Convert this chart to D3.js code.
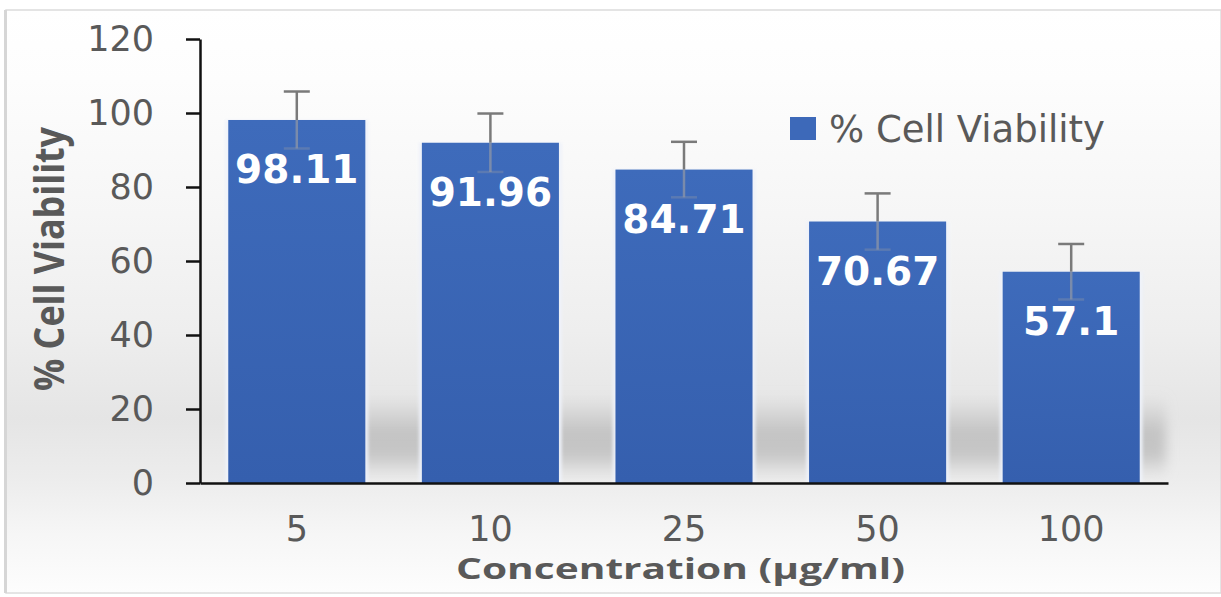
<!DOCTYPE html>
<html>
<head>
<meta charset="utf-8">
<script src="https://cdn.jsdelivr.net/npm/d3@7/dist/d3.min.js"></script>
<style>
  html, body { margin: 0; padding: 0; background: #ffffff; }
  svg { display: block; }
</style>
</head>
<body>
<svg id="chart" width="1221" height="597"></svg>
<script>
// ---- data ----
const categories = ["5", "10", "25", "50", "100"];
const viability = [98.11, 91.96, 84.71, 70.67, 57.1];
const errors = [7.7, 7.9, 7.5, 7.6, 7.5];
const yTicks = [0, 20, 40, 60, 80, 100, 120];
const seriesName = "% Cell Viability";
const xTitle = "Concentration (\u00b5g/ml)";
const yTitle = "% Cell Viability";

const data = categories.map((c, i) => ({ cat: c, v: viability[i], e: errors[i] }));

const svg = d3.select("#chart");
const W = 1221, H = 597;

const defs = svg.append("defs");
const bg = defs.append("linearGradient").attr("id", "bgGrad")
  .attr("x1", 0).attr("y1", 0).attr("x2", 0).attr("y2", 1);
[[0, "#ffffff"], [0.12, "#fdfdfd"], [0.35, "#f6f6f6"], [0.55, "#eeeeee"],
 [0.7, "#e5e5e5"], [0.8, "#ececec"], [0.9, "#f6f6f6"], [1, "#fdfdfd"]]
  .forEach(([o, c]) => bg.append("stop").attr("offset", o).attr("stop-color", c));

const barGrad = defs.append("linearGradient").attr("id", "barGrad")
  .attr("x1", 0).attr("y1", 0).attr("x2", 0).attr("y2", 1);
barGrad.append("stop").attr("offset", 0).attr("stop-color", "#3e6bbb");
barGrad.append("stop").attr("offset", 1).attr("stop-color", "#355fae");

const shGrad = defs.append("linearGradient").attr("id", "shGrad")
  .attr("x1", 0).attr("y1", 0).attr("x2", 0).attr("y2", 1);
[[0, "#c8c8c8", 0], [0.45, "#b8b8b8", 0.75], [0.75, "#bdbdbd", 0.8], [1, "#d8d8d8", 0.3]]
  .forEach(([o, c, op]) => shGrad.append("stop").attr("offset", o).attr("stop-color", c).attr("stop-opacity", op));

defs.append("filter").attr("id", "blur8").attr("x", "-10%").attr("y", "-50%")
  .attr("width", "120%").attr("height", "200%")
  .append("feGaussianBlur").attr("stdDeviation", 6);
defs.append("filter").attr("id", "blur2").attr("x", "-20%").attr("y", "-5%")
  .attr("width", "140%").attr("height", "110%")
  .append("feGaussianBlur").attr("stdDeviation", 1.5);

// background frame
svg.append("rect").attr("x", 0).attr("y", 0).attr("width", W).attr("height", H).attr("fill", "#ffffff");
svg.append("rect").attr("x", 6).attr("y", 10).attr("width", W - 6).attr("height", 583)
  .attr("fill", "url(#bgGrad)").attr("stroke", "#dcdcdc").attr("stroke-width", 1.5);
svg.append("rect").attr("x", 4).attr("y", 10).attr("width", 3).attr("height", 583).attr("fill", "#d6d6d6");

// ---- scales ----
const x = d3.scaleBand().domain(categories).range([200, 1168]).paddingInner(0.292).paddingOuter(0.146);
const y = d3.scaleLinear().domain([0, 120]).range([483, 39]);

// shadow band behind bars
svg.append("rect")
  .attr("x", x(categories[0]) + 40).attr("width", x.range()[1] - x(categories[0]) - 42)
  .attr("y", y(24)).attr("height", y(2) - y(24))
  .attr("fill", "url(#shGrad)").attr("filter", "url(#blur8)");

// glow edges around bars
svg.append("g").selectAll("rect").data(data).join("rect")
  .attr("x", d => x(d.cat) - 3).attr("width", x.bandwidth() + 6)
  .attr("y", d => y(d.v)).attr("height", d => y(0) - y(d.v))
  .attr("fill", "#eef2fa").attr("opacity", 0.9).attr("filter", "url(#blur2)");

// bars
svg.append("g").selectAll("rect").data(data).join("rect")
  .attr("x", d => x(d.cat)).attr("width", x.bandwidth())
  .attr("y", d => y(d.v)).attr("height", d => y(0) - y(d.v))
  .attr("fill", "url(#barGrad)");

// error bars
const eg = svg.append("g").attr("stroke-width", 2.5);
data.forEach(d => {
  const cx = x(d.cat) + x.bandwidth() / 2;
  eg.append("line").attr("x1", cx).attr("x2", cx).attr("y1", y(d.v + d.e)).attr("y2", y(d.v))
    .attr("stroke", "#7a7a7a");
  eg.append("line").attr("x1", cx).attr("x2", cx).attr("y1", y(d.v)).attr("y2", y(d.v - d.e))
    .attr("stroke", "#8a93a8").attr("stroke-opacity", 0.8);
  eg.append("line").attr("x1", cx - 13).attr("x2", cx + 13).attr("y1", y(d.v + d.e)).attr("y2", y(d.v + d.e))
    .attr("stroke", "#7a7a7a");
  eg.append("line").attr("x1", cx - 13).attr("x2", cx + 13).attr("y1", y(d.v - d.e)).attr("y2", y(d.v - d.e))
    .attr("stroke", "#8a93a8").attr("stroke-opacity", 0.4);
});

// data labels
svg.append("g").selectAll("text").data(data).join("text")
  .attr("x", d => x(d.cat) + x.bandwidth() / 2)
  .attr("y", d => y(d.v) + 63)
  .attr("text-anchor", "middle")
  .attr("font-family", "DejaVu Sans, Verdana, sans-serif")
  .attr("font-weight", "bold")
  .attr("font-size", 39)
  .attr("fill", "#ffffff")
  .text(d => d.v);

// ---- axes ----
const yAxis = d3.axisLeft(y).tickValues(yTicks).tickSize(14).tickSizeOuter(0).tickPadding(32);
const gy = svg.append("g").attr("transform", "translate(200,0)").call(yAxis);
gy.select(".domain").attr("stroke", "#111").attr("stroke-width", 2.5);
gy.selectAll(".tick line").attr("stroke", "#111").attr("stroke-width", 2.5);
gy.selectAll(".tick text").attr("font-family", "DejaVu Sans, Verdana, sans-serif")
  .attr("font-size", 35).attr("fill", "#595959");

const xAxis = d3.axisBottom(x).tickSize(0).tickSizeOuter(0).tickPadding(33);
const gx = svg.append("g").attr("transform", "translate(0,483)").call(xAxis);
gx.select(".domain").attr("stroke", "#111").attr("stroke-width", 2.5);
gx.selectAll(".tick text").attr("font-family", "DejaVu Sans, Verdana, sans-serif")
  .attr("font-size", 35).attr("fill", "#595959");

// axis titles
svg.append("text")
  .attr("x", 456).attr("y", 579)
  .attr("font-family", "Open Sans, Noto Sans, sans-serif")
  .attr("font-weight", "bold").attr("font-size", 28).attr("fill", "#595959")
  .attr("textLength", 449).attr("lengthAdjust", "spacingAndGlyphs")
  .text(xTitle);

svg.append("text")
  .attr("transform", "translate(64,391) rotate(-90)")
  .attr("x", 0).attr("y", 0)
  .attr("font-family", "Open Sans, Noto Sans, sans-serif")
  .attr("font-weight", "bold").attr("font-size", 41).attr("fill", "#595959")
  .attr("textLength", 264).attr("lengthAdjust", "spacingAndGlyphs")
  .text(yTitle);

// legend
const lg = svg.append("g");
lg.append("rect").attr("x", 790).attr("y", 117).attr("width", 26).attr("height", 23).attr("fill", "#3d69b9");
lg.append("text").attr("x", 829).attr("y", 142)
  .attr("font-family", "DejaVu Sans, Verdana, sans-serif")
  .attr("font-size", 37).attr("fill", "#595959")
  .text(seriesName);
</script>
</body>
</html>
